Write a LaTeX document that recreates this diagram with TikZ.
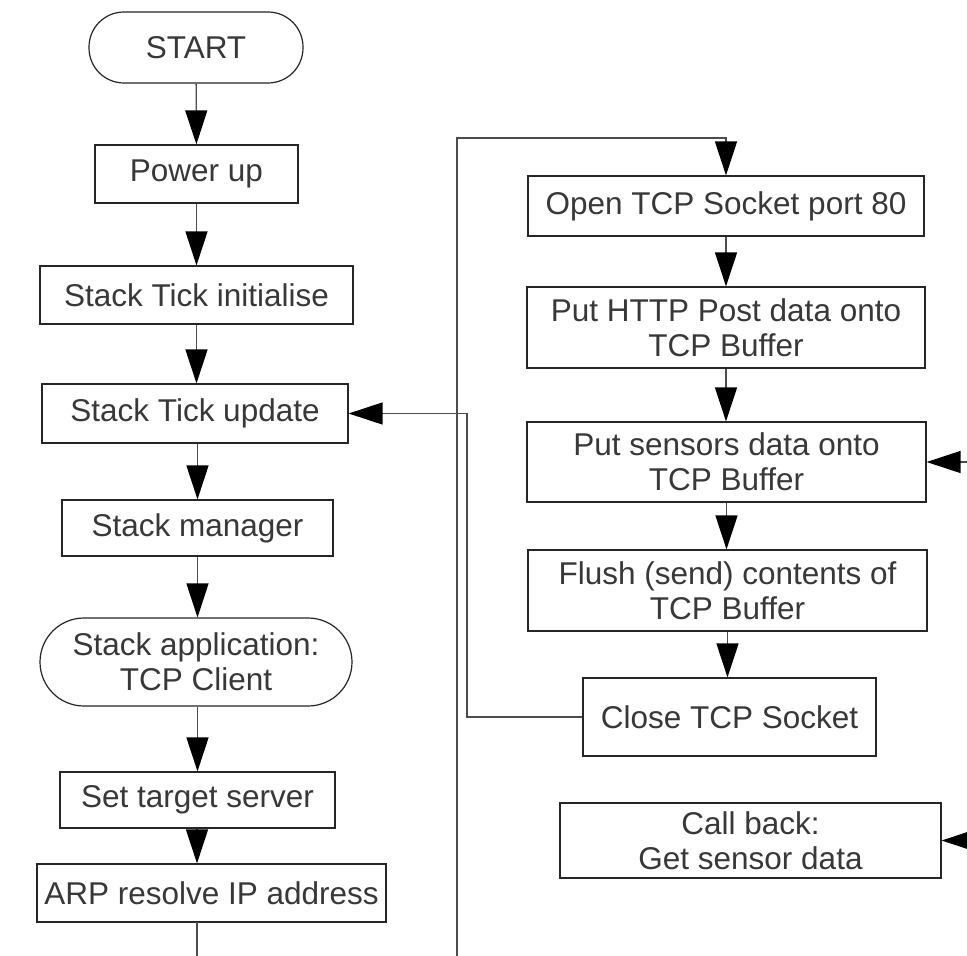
\documentclass[tikz,border=0pt]{standalone}
\usepackage{fontspec}
\setmainfont{Liberation Sans}
\usetikzlibrary{arrows.meta}

\begin{document}
\begin{tikzpicture}[x=1pt,y=-1pt,
  every node/.style={font=\fontsize{31.5}{35}\selectfont, text=black!78, align=center, inner sep=0pt},
  box/.style={draw=black!85, line width=1.2pt, rectangle},
  term/.style={draw=black!85, line width=1.2pt, rectangle, rounded corners=#1},
  wire/.style={draw=black!70, line width=1.3pt},
  arr/.style={wire, -{Triangle[length=34pt,width=22pt,black]}}
]
\clip (0,0) rectangle (967,956);
\fill[white] (0,0) rectangle (967,956);

% left column
\node[term=35pt, minimum width=214pt, minimum height=71pt] (start) at (196,47.5) {START};
\node[box, minimum width=203pt, minimum height=58pt] (power) at (196.5,174) {Power up};
\node[box, minimum width=313pt, minimum height=58pt] (init) at (196.5,295) {Stack Tick initialise};
\node[box, minimum width=306pt, minimum height=59pt] (update) at (195,413.5) {Stack Tick update};
\node[box, minimum width=271pt, minimum height=56pt] (manager) at (197.5,528) {Stack manager};
\node[term=44pt, minimum width=312pt, minimum height=88pt] (app) at (196,662) {Stack application:\\TCP Client};
\node[box, minimum width=275pt, minimum height=56pt] (target) at (197.5,800) {Set target server};
\node[box, minimum width=349pt, minimum height=58pt] (arp) at (211.5,893) {ARP resolve IP address};

% right column
\node[box, minimum width=396pt, minimum height=60pt] (open) at (726,206) {Open TCP Socket port 80};
\node[box, minimum width=398pt, minimum height=81pt] (http) at (726,327.5) {Put HTTP Post data onto\\TCP Buffer};
\node[box, minimum width=399pt, minimum height=80pt] (sensors) at (726.5,462) {Put sensors data onto\\TCP Buffer};
\node[box, minimum width=399pt, minimum height=81pt] (flush) at (727.5,590.5) {Flush (send) contents of\\TCP Buffer};
\node[box, minimum width=293pt, minimum height=78pt] (close) at (729.5,717) {Close TCP Socket};
\node[box, minimum width=381pt, minimum height=75pt] (callback) at (750.5,840.5) {Call back:\\Get sensor data};

% free ends and bends
\coordinate (arpout) at (197,922);
\coordinate (bottomL) at (197,970);
\coordinate (loopstart) at (457,970);
\coordinate (loopcorner) at (457,138);
\coordinate (backx) at (467,717);
\coordinate (sensorsin) at (990,462);
\coordinate (callin) at (990,840.5);

% main sequence
\draw[arr] (start) -- (power);
\draw[arr] (power) -- (init.north -| power.south);
\draw[arr] (init) -- (update.north -| init.south);
\draw[arr] (update.south -| manager.north) -- (manager);
\draw[arr] (manager) -- (app.north -| manager.south);
\draw[arr] (app.south -| target.north) -- (target);
\draw[arr] (target.south -| arpout) -- (arp.north -| arpout);
\draw[wire] (arpout) -- (bottomL);

% loop into the socket sequence
\draw[arr] (loopstart) -- (loopcorner) -| (open.north);
\draw[arr] (open) -- (open.south |- http.north);
\draw[arr] (http.south) -- (http.south |- sensors.north);
\draw[arr] (sensors.south) -- (sensors.south |- flush.north);
\draw[arr] (flush.south) -- (flush.south |- close.north);

% back to the stack tick
\draw[arr] (close.west) -- (backx) |- (update.east);

% incoming from the right
\draw[arr] (sensorsin) -- (sensors.east);
\draw[arr] (callin) -- (callback.east);
\end{tikzpicture}
\end{document}
